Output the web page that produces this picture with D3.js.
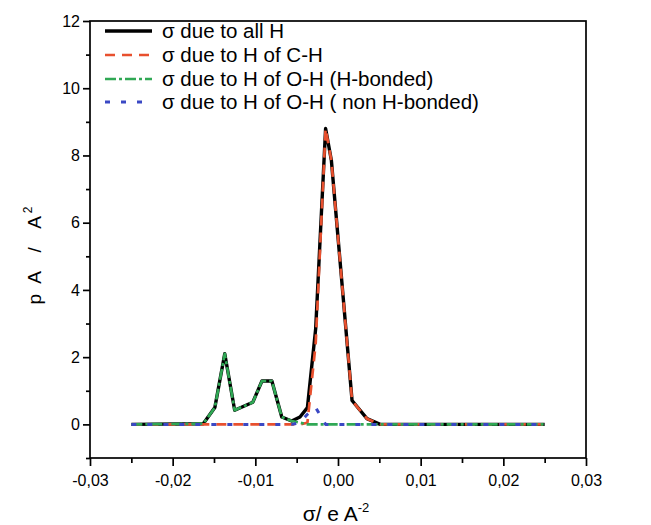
<!DOCTYPE html>
<html><head><meta charset="utf-8">
<script src="https://cdn.jsdelivr.net/npm/d3@7"></script>
<style>
html,body{margin:0;padding:0;background:#fff;}
text{font-family:"Liberation Sans",Arial,sans-serif;fill:#000;}
</style></head>
<body>
<svg id="c" width="651" height="525"></svg>
<script>
// sigma grid (e/A^2), vertices
const sigma = [-0.025,-0.0163,-0.0149,-0.0137,-0.0125,-0.0103,-0.0092,-0.0080,-0.0068,-0.0056,-0.0046,-0.0037,-0.0027,-0.0015,-0.0008,0.0017,0.0035,0.0051,0.025];
const allH      = [0,0.02,0.5,2.1,0.42,0.66,1.29,1.29,0.22,0.1,0.22,0.5,2.85,8.8,7.85,0.71,0.17,0,0];
const hCH       = [0,0,0,0,0,0,0,0,0,0,0,0.05,2.4,8.8,7.85,0.71,0.17,0,0];
const hOHbond   = [0,0.02,0.5,2.1,0.42,0.66,1.29,1.29,0.22,0.1,0.05,0,0,0,0,0,0,0,0];
const hOHnon    = [0,0,0,0,0,0,0,0,0,0,0.05,0.3,0.5,0,0,0,0,0,0];
const seriesNames = ["σ due to all H","σ due to H of C-H","σ due to H of O-H (H-bonded)","σ due to H of O-H ( non H-bonded)"];
const xMajor = [-0.03,-0.02,-0.01,0,0.01,0.02,0.03];
const xMinor = [-0.025,-0.015,-0.005,0.005,0.015,0.025];
const yMajor = [0,2,4,6,8,10,12];
const yMinor = [-1,1,3,5,7,9,11];

const svg = d3.select("#c");
const L=90,R=586,T=21,B=458;
const x = d3.scaleLinear().domain([-0.03,0.03]).range([L,R]);
const y = d3.scaleLinear().domain([-1,12]).range([B,T]);

const fmt = d => (d<0?"-":"") + Math.abs(d).toFixed(2).replace(".",",");

// axes
const gx = svg.append("g").attr("transform",`translate(0,${B})`)
  .call(d3.axisBottom(x).tickValues(xMajor).tickSize(8).tickPadding(9).tickFormat(fmt));
const gxm = svg.append("g").attr("transform",`translate(0,${B})`)
  .call(d3.axisBottom(x).tickValues(xMinor).tickSize(5).tickFormat(""));
const gy = svg.append("g").attr("transform",`translate(${L},0)`)
  .call(d3.axisLeft(y).tickValues(yMajor).tickSize(7).tickPadding(3).tickFormat(d3.format("d")));
const gym = svg.append("g").attr("transform",`translate(${L},0)`)
  .call(d3.axisLeft(y).tickValues(yMinor).tickSize(4).tickFormat(""));
[gx,gxm,gy,gym].forEach(g=>{
  g.selectAll(".domain").remove();
  g.selectAll("line").attr("stroke","#000").attr("stroke-width",1.7);
  g.selectAll("text").attr("font-size",16).attr("font-family",'"Liberation Sans",Arial,sans-serif').attr("fill","#000");
});
svg.append("rect").attr("x",L).attr("y",T).attr("width",R-L).attr("height",B-T)
  .attr("fill","none").attr("stroke","#000").attr("stroke-width",1.7);

// lines
const line = vals => d3.line().x((d,i)=>x(sigma[i])).y(d=>y(d))(vals);
const styles = [
  {data:allH,color:"#000",w:3.4,dash:null},
  {data:hCH,color:"#e8502e",w:2.7,dash:"10,7"},
  {data:hOHbond,color:"#30a855",w:2.7,dash:"11,3,3,3"},
  {data:hOHnon,color:"#3a48c4",w:3,dash:"5,11"}
];
styles.forEach(s=>{
  svg.append("path").attr("d",line(s.data)).attr("fill","none")
    .attr("stroke",s.color).attr("stroke-width",s.w)
    .attr("stroke-dasharray",s.dash).attr("stroke-linejoin","round");
});

// legend
const ly=[31,55,79,102];
styles.forEach((s,i)=>{
  svg.append("line").attr("x1",105).attr("x2",152).attr("y1",ly[i]).attr("y2",ly[i])
    .attr("stroke",s.color).attr("stroke-width",s.w).attr("stroke-dasharray",s.dash);
  svg.append("text").attr("x",162).attr("y",ly[i]+7).attr("font-size",20.5).text(seriesNames[i]);
});

// axis titles
const xt = svg.append("text").attr("x",336).attr("y",521).attr("text-anchor","middle").attr("font-size",21);
xt.append("tspan").text("σ/ e A");
xt.append("tspan").attr("dy",-9).attr("font-size",13).text("-2");

const yt = svg.append("text").attr("transform","translate(41,254) rotate(-90)").attr("text-anchor","middle")
  .attr("font-size",19).attr("letter-spacing",3).style("white-space","pre");
yt.append("tspan").text("p A  /  A");
yt.append("tspan").attr("dy",-9).attr("font-size",12).text("2");
</script>
</body></html>
